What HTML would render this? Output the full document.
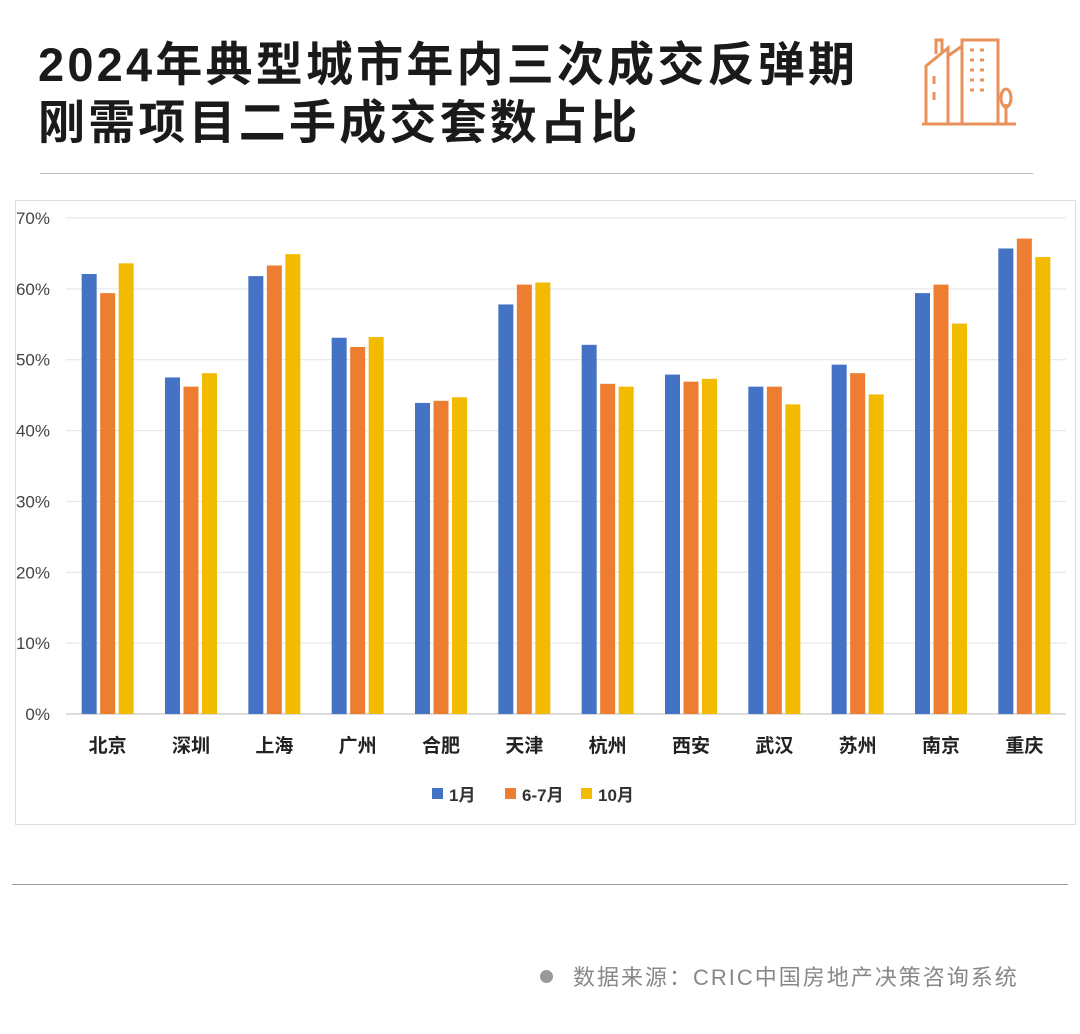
<!DOCTYPE html>
<html><head><meta charset="utf-8"><style>
body{margin:0;width:1080px;height:1034px;background:#fff;overflow:hidden;font-family:"Liberation Sans","Noto Sans CJK SC",sans-serif}
.title{position:absolute;left:38px;font-size:47px;font-weight:bold;color:#1a1a1a;letter-spacing:3.2px;white-space:nowrap;font-family:"Liberation Sans","Noto Sans CJK SC",sans-serif}
</style></head><body>
<div class="title" style="top:26px">2024年典型城市年内三次成交反弹期</div>
<div class="title" style="top:84px">刚需项目二手成交套数占比</div>
<svg style="position:absolute;left:918px;top:26px" width="102" height="102" viewBox="0 0 102 102" fill="none" stroke="#e8915a" stroke-width="3">
<path d="M4 98H98"/><path d="M8 98V40L30 22V98"/><path d="M18 28V14h6v12"/><path d="M30 30L44 20V98"/><path d="M44 98V14H80V98"/>
<path d="M52 24h4M62 24h4M52 34h4M62 34h4M52 44h4M62 44h4M52 54h4M62 54h4M52 64h4M62 64h4M16 50v8M16 66v8"/>
<path d="M88 98V78"/><ellipse cx="88" cy="72" rx="5" ry="9"/></svg>
<div style="position:absolute;left:40px;top:173px;width:993px;height:1px;background:#bbb"></div>
<div style="position:absolute;left:12px;top:884px;width:1056px;height:1px;background:#999"></div>
<div style="position:absolute;left:15px;top:200px;width:1061px;height:625px;border:1px solid #ddd;box-sizing:border-box"></div>
<svg id="chart" style="position:absolute;left:0;top:0" width="1080" height="1034"></svg>
<div style="position:absolute;left:540px;top:960px;font-size:22px;color:#888;letter-spacing:2px;white-space:nowrap"><span style="display:inline-block;width:13px;height:13px;border-radius:50%;background:#999;margin-right:20px;vertical-align:2px"></span>数据来源：CRIC中国房地产决策咨询系统</div>
<script>
const categories=["北京","深圳","上海","广州","合肥","天津","杭州","西安","武汉","苏州","南京","重庆"];
const seriesNames=["1月","6-7月","10月"];
const jan=[62.1,47.5,61.8,53.1,43.9,57.8,52.1,47.9,46.2,49.3,59.4,65.7];
const junjul=[59.4,46.2,63.3,51.8,44.2,60.6,46.6,46.9,46.2,48.1,60.6,67.1];
const oct=[63.6,48.1,64.9,53.2,44.7,60.9,46.2,47.3,43.7,45.1,55.1,64.5];
const yTicks=[0,10,20,30,40,50,60,70];
const colors=["#4472c4","#ed7d31","#f2bb00"];
const svg=document.getElementById('chart');const NS="http://www.w3.org/2000/svg";
const X0=66,X1=1066,Y0=714,Y1=218,ymax=70;
const y=v=>Y0-(v/ymax)*(Y0-Y1);
const gw=(X1-X0)/categories.length;
const gx=i=>X0+gw*(i+0.5);
function mk(t,a,txt){const e=document.createElementNS(NS,t);for(const k in a)e.setAttribute(k,a[k]);if(txt!=null)e.textContent=txt;svg.appendChild(e);return e;}
yTicks.forEach(t=>{
 const l=mk('line',{x1:X0,x2:X1,y1:y(t),y2:y(t),stroke:t===0?'#bbb':'#e3e3e3','stroke-width':1});
 
 
 const tx=mk('text',{x:50,y:y(t)+6,'text-anchor':'end','font-size':17,fill:'#444'},t+'%');
 
 
});
const all=[jan,junjul,oct];const bw=15,step=18.5;
categories.forEach((c,i)=>{
 all.forEach((s,j)=>{
  const r=mk('rect',{x:gx(i)+(j-1)*step-bw/2,y:y(s[i]),width:bw,height:Y0-y(s[i]),fill:colors[j]});
  
  
 });
 const t=mk('text',{x:gx(i),y:752,'text-anchor':'middle','font-size':19,'font-weight':'bold',fill:'#222'},c);
 
 
});
const lx=[432,505,581];
seriesNames.forEach((n,j)=>{
 const r=mk('rect',{x:lx[j],y:788,width:11,height:11,fill:colors[j]});
 
 
 const t=mk('text',{x:lx[j]+17,y:801,'font-size':17,'font-weight':'bold',fill:'#333'},n);
 
 
});
</script>
</body></html>
